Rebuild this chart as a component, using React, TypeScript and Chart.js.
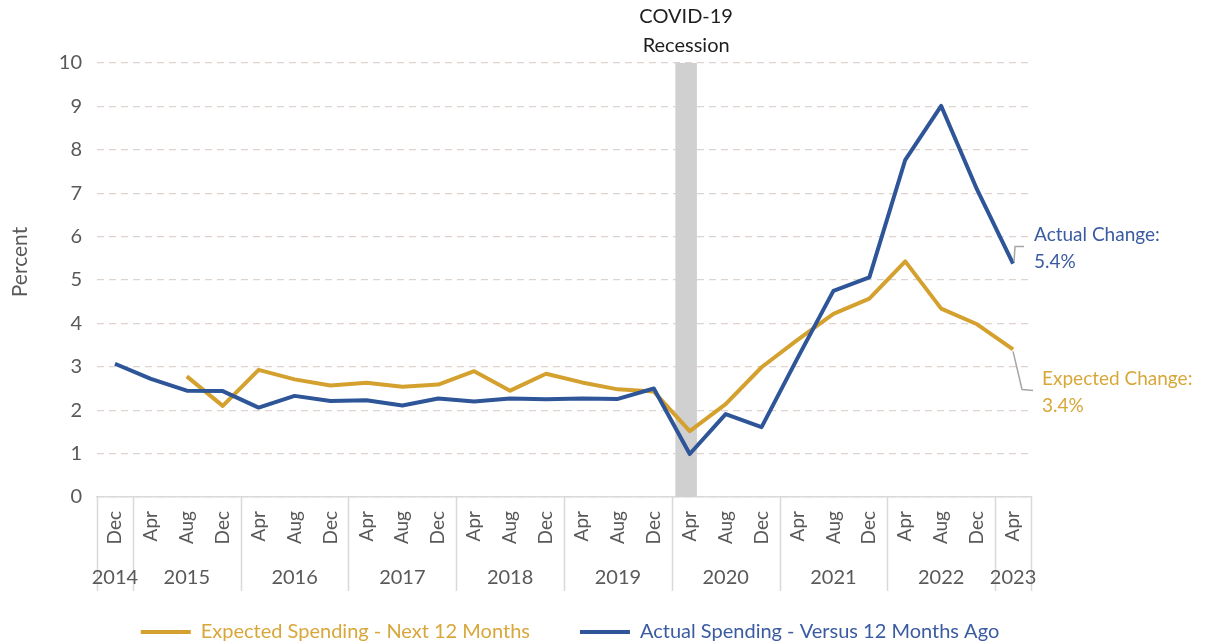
import React, { useEffect, useRef } from "react";
import { Chart, registerables } from "chart.js";

Chart.register(...registerables);

const FONT = "Lato, 'Open Sans', sans-serif";

const months = [
  "Dec", "Apr", "Aug", "Dec", "Apr", "Aug", "Dec", "Apr", "Aug", "Dec",
  "Apr", "Aug", "Dec", "Apr", "Aug", "Dec", "Apr", "Aug", "Dec", "Apr",
  "Aug", "Dec", "Apr", "Aug", "Dec", "Apr",
];
const years = [
  "2014", "2015", "2015", "2015", "2016", "2016", "2016", "2017", "2017", "2017",
  "2018", "2018", "2018", "2019", "2019", "2019", "2020", "2020", "2020", "2021",
  "2021", "2021", "2022", "2022", "2022", "2023",
];

const expectedSpending: (number | null)[] = [
  null, null, 2.78, 2.1, 2.93, 2.71, 2.57, 2.63, 2.54, 2.59,
  2.9, 2.45, 2.84, 2.64, 2.48, 2.43, 1.52, 2.14, 2.99, 3.62,
  4.22, 4.57, 5.43, 4.34, 3.98, 3.4,
];
const actualSpending: number[] = [
  3.07, 2.72, 2.45, 2.44, 2.06, 2.33, 2.21, 2.23, 2.11, 2.27,
  2.2, 2.27, 2.25, 2.27, 2.26, 2.5, 0.99, 1.91, 1.61, 3.2,
  4.75, 5.06, 7.77, 9.01, 7.08, 5.38,
];

const seriesNames = ["Expected Spending - Next 12 Months", "Actual Spending - Versus 12 Months Ago"];
const yTitle = "Percent";
const GOLD = "#D4A12F";
const BLUE = "#2E5597";
const GOLD_TEXT = "#D8A73A";
const BLUE_TEXT = "#3A5BA0";
const TEXT = "#595959";

// recession band, in category-index units (Feb–Apr 2020)
const recessionFrom = 15.6;
const recessionTo = 16.2;
const recessionLabel = ["COVID-19", "Recession"];
const actualNote = ["Actual Change:", "5.4%"];
const expectedNote = ["Expected Change:", "3.4%"];

const overlayPlugin = {
  id: "overlay",
  beforeDatasetsDraw(chart: any) {
    const { ctx } = chart;
    const x = chart.scales.x;
    const y = chart.scales.y;
    const l = x.getPixelForValue(recessionFrom);
    const r = x.getPixelForValue(recessionTo);
    const t = y.getPixelForValue(10);
    const b = y.getPixelForValue(0);
    ctx.save();
    ctx.fillStyle = "#d0d0d0";
    ctx.fillRect(l, t, r - l, b - t);
    ctx.restore();
  },
  afterDraw(chart: any) {
    const { ctx } = chart;
    const x = chart.scales.x;
    const y = chart.scales.y;
    const base = y.getPixelForValue(0);
    ctx.save();
    // y-axis title
    ctx.save();
    ctx.translate(20, (y.top + y.bottom) / 2 - 18);
    ctx.rotate(-Math.PI / 2);
    ctx.fillStyle = TEXT;
    ctx.font = `21px ${FONT}`;
    ctx.textAlign = "center";
    ctx.textBaseline = "middle";
    ctx.fillText(yTitle, 0, 0);
    ctx.restore();
    // year separators
    ctx.strokeStyle = "#d9d9d9";
    ctx.lineWidth = 1.5;
    const bounds: number[] = [-0.5];
    for (let i = 1; i < years.length; i++) if (years[i] !== years[i - 1]) bounds.push(i - 0.5);
    bounds.push(years.length - 0.5);
    bounds.forEach((v) => {
      const px = Math.round(x.getPixelForValue(v)) + 0.5;
      ctx.beginPath();
      ctx.moveTo(px, base);
      ctx.lineTo(px, base + 94);
      ctx.stroke();
    });
    // year labels
    ctx.fillStyle = TEXT;
    ctx.font = `20px ${FONT}`;
    ctx.textAlign = "center";
    ctx.textBaseline = "middle";
    let start = 0;
    for (let i = 1; i <= years.length; i++) {
      if (i === years.length || years[i] !== years[start]) {
        const mid = (start + i - 1) / 2;
        ctx.fillText(years[start], x.getPixelForValue(mid), base + 81);
        start = i;
      }
    }
    // recession label
    const cx = (x.getPixelForValue(recessionFrom) + x.getPixelForValue(recessionTo)) / 2;
    ctx.fillStyle = "#1e1e1e";
    ctx.font = `20px ${FONT}`;
    ctx.fillText(recessionLabel[0], cx, y.getPixelForValue(10) - 46);
    ctx.fillText(recessionLabel[1], cx, y.getPixelForValue(10) - 17);

    // end annotations
    const last = actualSpending.length - 1;
    const px = x.getPixelForValue(last);
    const ay = y.getPixelForValue(actualSpending[last]);
    const ey = y.getPixelForValue(expectedSpending[last] as number);
    ctx.strokeStyle = "#a6a6a6";
    ctx.lineWidth = 1.5;
    ctx.beginPath();
    ctx.moveTo(px + 1, ay - 2);
    ctx.lineTo(px + 2, ay - 17);
    ctx.lineTo(px + 11, ay - 17);
    ctx.stroke();
    ctx.beginPath();
    ctx.moveTo(px, ey + 2);
    ctx.lineTo(px + 9, ey + 40);
    ctx.lineTo(px + 20, ey + 41);
    ctx.stroke();
    ctx.textAlign = "left";
    ctx.font = `19px ${FONT}`;
    ctx.fillStyle = BLUE_TEXT;
    ctx.fillText(actualNote[0], px + 21, ay - 29);
    ctx.fillText(actualNote[1], px + 21, ay - 2);
    ctx.fillStyle = GOLD_TEXT;
    ctx.fillText(expectedNote[0], px + 29, ey + 29);
    ctx.fillText(expectedNote[1], px + 29, ey + 56);
    ctx.restore();
  },
};

export default function App() {
  const ref = useRef<HTMLCanvasElement | null>(null);
  useEffect(() => {
    if (!ref.current) return;
    const chart = new Chart(ref.current, {
      type: "line",
      data: {
        labels: months,
        datasets: [
          {
            label: seriesNames[0],
            data: expectedSpending,
            borderColor: GOLD,
            backgroundColor: GOLD,
            borderWidth: 4,
            pointRadius: 0,
            tension: 0,
            borderJoinStyle: "round",
            order: 1,
            yAxisID: "y",
          },
          {
            label: seriesNames[1],
            data: actualSpending,
            borderColor: BLUE,
            backgroundColor: BLUE,
            borderWidth: 4,
            pointRadius: 0,
            tension: 0,
            borderJoinStyle: "round",
            order: 0,
            yAxisID: "y",
          },
        ],
      },
      options: {
        responsive: false,
        animation: false,
        layout: { padding: { top: 63, right: 71, bottom: 0, left: 4 } },
        plugins: {
          tooltip: { enabled: false },
          legend: {
            position: "bottom",
            labels: {
              boxWidth: 50,
              boxHeight: 4,
              padding: 50,
              font: { family: FONT, size: 20 },
              generateLabels(chart: any) {
                return chart.data.datasets.map((ds: any, i: number) => ({
                  text: ds.label,
                  fillStyle: ds.borderColor,
                  strokeStyle: ds.borderColor,
                  lineWidth: 0,
                  fontColor: i === 0 ? GOLD_TEXT : BLUE_TEXT,
                  hidden: false,
                  datasetIndex: i,
                }));
              },
            },
          },
        },
        scales: {
          x: {
            type: "category",
            offset: true,
            grid: { display: false, drawTicks: false },
            border: { display: true, color: "#d9d9d9", width: 1.5 },
            ticks: {
              autoSkip: false,
              minRotation: 90,
              maxRotation: 90,
              padding: 14,
              color: TEXT,
              font: { family: FONT, size: 19 },
            },
            afterFit(scale: any) {
              scale.height = 75;
            },
          },
          y: {
            position: "left",
            min: 0,
            max: 10,
            ticks: { stepSize: 1, padding: 15, color: TEXT, font: { family: FONT, size: 20 } },
            grid: { color: "#ddd3cf", lineWidth: 1.2, drawTicks: false },
            border: { display: false, dash: [7, 5] },
            afterFit(scale: any) {
              scale.width = 93;
            },
          },
          notes: {
            position: "right",
            display: true,
            min: 0,
            max: 1,
            ticks: { display: false },
            grid: { display: false, drawTicks: false },
            border: { display: false },
            afterFit(scale: any) {
              scale.width = 105;
            },
          },
        },
      },
      plugins: [overlayPlugin],
    } as any);
    return () => chart.destroy();
  }, []);
  return (
    <div
      style={{
        position: "fixed",
        left: 0,
        top: 0,
        width: 1207,
        height: 643,
        overflow: "hidden",
        background: "#ffffff",
      }}
    >
      <canvas ref={ref} width={1207} height={652} style={{ display: "block" }} />
    </div>
  );
}
